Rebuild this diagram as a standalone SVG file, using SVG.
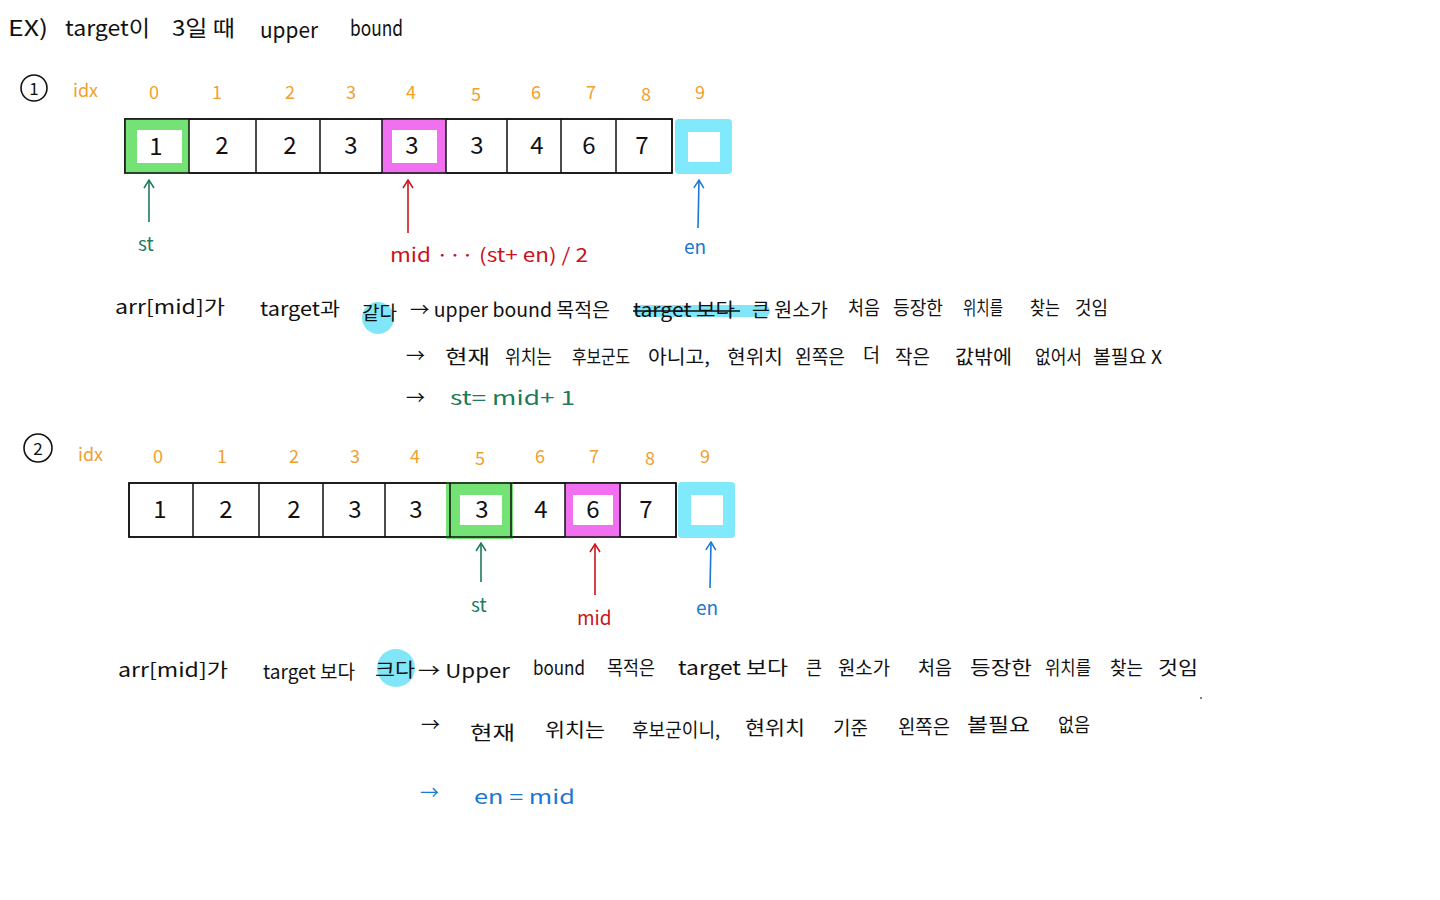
<svg xmlns="http://www.w3.org/2000/svg" width="1440" height="900" viewBox="0 0 1440 900">
<style>
text{font-family:"Noto Sans CJK KR","Noto Sans",sans-serif;fill:#111}
.t{font-size:19px}
.ttl{font-size:22px}
.idx{font-size:18px;fill:#f0a030}
.num{font-size:24px;text-anchor:middle}
.cell{fill:#fff;stroke:#111;stroke-width:1.5}
.g{fill:#74e274}
.m{fill:#f070f0}
.c{fill:#80e9fb}
.hl{fill:#80e6f8}
.gt{fill:#1d7a5c}
.rt{fill:#c8141c}
.bt{fill:#1a78d4}
.circ{fill:none;stroke:#111;stroke-width:1.6}
</style>
<defs>
<marker id="ah" viewBox="0 0 12 12" refX="11" refY="6" markerWidth="12" markerHeight="12" markerUnits="userSpaceOnUse" orient="auto">
<path d="M3 1 L11 6 L3 11" fill="none" stroke="context-stroke" stroke-width="1.5"/>
</marker>
</defs>
<rect width="1440" height="900" fill="#fff"/>

<g id="title">
<text class="ttl" x="8" y="36" textLength="40" lengthAdjust="spacingAndGlyphs">EX)</text>
<text class="ttl" x="65" y="36" textLength="85" lengthAdjust="spacingAndGlyphs">target이</text>
<text class="ttl" x="172" y="36" textLength="63" lengthAdjust="spacingAndGlyphs">3일 때</text>
<text class="ttl" x="260" y="38" textLength="58" lengthAdjust="spacingAndGlyphs">upper</text>
<text class="ttl" x="350" y="36" textLength="53" lengthAdjust="spacingAndGlyphs">bound</text>
</g>

<!-- Section 1 -->
<g id="step1-label">
<circle class="circ" cx="34" cy="88" r="13"/>
<text x="34" y="95" font-size="17" text-anchor="middle">1</text>
<text class="idx" x="73" y="97">idx</text>
</g>
<g id="idx1">
<text class="idx" text-anchor="middle" x="154" y="99">0</text>
<text class="idx" text-anchor="middle" x="217" y="99">1</text>
<text class="idx" text-anchor="middle" x="290" y="99">2</text>
<text class="idx" text-anchor="middle" x="351" y="99">3</text>
<text class="idx" text-anchor="middle" x="411" y="99">4</text>
<text class="idx" text-anchor="middle" x="476" y="101">5</text>
<text class="idx" text-anchor="middle" x="536" y="99">6</text>
<text class="idx" text-anchor="middle" x="591" y="99">7</text>
<text class="idx" text-anchor="middle" x="646" y="101">8</text>
<text class="idx" text-anchor="middle" x="700" y="99">9</text>
</g>
<g id="arr1">
<rect class="cell" x="125" y="119" width="547" height="54"/>
<rect class="g" x="125" y="119" width="64" height="55"/>
<rect fill="#fff" x="137" y="130" width="45" height="33"/>
<rect class="m" x="382" y="119" width="64" height="55"/>
<rect fill="#fff" x="392" y="130" width="45" height="33"/>
<rect fill="none" stroke="#111" stroke-width="1.5" x="125" y="119" width="547" height="54"/>
<path d="M189 119V173M256 119V173M320 119V173M382 119V173M446 119V173M507 119V173M561 119V173M616 119V173" stroke="#111" stroke-width="1.5"/>
<rect class="c" x="675" y="119" width="57" height="55" rx="4"/>
<rect fill="#fff" x="688" y="132" width="32" height="30"/>
<text class="num" x="156" y="155">1</text>
<text class="num" x="222" y="154">2</text>
<text class="num" x="290" y="154">2</text>
<text class="num" x="351" y="154">3</text>
<text class="num" x="412" y="154">3</text>
<text class="num" x="477" y="154">3</text>
<text class="num" x="537" y="154">4</text>
<text class="num" x="589" y="154">6</text>
<text class="num" x="642" y="154">7</text>
</g>
<g id="ptr1">
<text class="t gt" x="138" y="251" font-size="21">st</text>
<text class="t rt" x="390" y="262" textLength="198" lengthAdjust="spacingAndGlyphs">mid ··· (st+ en) / 2</text>
<text class="t bt" x="684" y="254" font-size="21">en</text>
</g>

<g id="conn1">
<line x1="149" y1="222" x2="149" y2="180" stroke="#1d7a5c" stroke-width="1.6" marker-end="url(#ah)"/>
<line x1="408" y1="233" x2="408" y2="180" stroke="#c8141c" stroke-width="1.6" marker-end="url(#ah)"/>
<line x1="698" y1="228" x2="699" y2="180" stroke="#1a78d4" stroke-width="1.6" marker-end="url(#ah)"/>
</g>

<g id="text1">
<text class="t" x="115" y="314" textLength="110" lengthAdjust="spacingAndGlyphs">arr[mid]가</text>
<text class="t" x="260" y="316" textLength="80" lengthAdjust="spacingAndGlyphs">target과</text>
<circle class="hl" cx="378" cy="318" r="16"/>
<text class="t" x="362" y="320" textLength="35" lengthAdjust="spacingAndGlyphs">같다</text>
<text class="t" x="410" y="317" textLength="200" lengthAdjust="spacingAndGlyphs">→ upper bound 목적은</text>
<rect class="hl" x="634" y="305" width="136" height="12" rx="6"/>
<text class="t" x="633" y="317" textLength="102" lengthAdjust="spacingAndGlyphs">target 보다</text>
<line x1="633" y1="311" x2="740" y2="311" stroke="#111" stroke-width="1.5"/>
<text class="t" x="752" y="317" textLength="76" lengthAdjust="spacingAndGlyphs">큰 원소가</text>
<text class="t" x="848" y="315" textLength="32" lengthAdjust="spacingAndGlyphs">처음</text>
<text class="t" x="893" y="315" textLength="50" lengthAdjust="spacingAndGlyphs">등장한</text>
<text class="t" x="963" y="315" textLength="40" lengthAdjust="spacingAndGlyphs">위치를</text>
<text class="t" x="1030" y="315" textLength="30" lengthAdjust="spacingAndGlyphs">찾는</text>
<text class="t" x="1075" y="315" textLength="33" lengthAdjust="spacingAndGlyphs">것임</text>

<text class="t" x="406" y="363">→</text>
<text class="t" x="445" y="364" textLength="45" lengthAdjust="spacingAndGlyphs">현재</text>
<text class="t" x="505" y="364" textLength="47" lengthAdjust="spacingAndGlyphs">위치는</text>
<text class="t" x="572" y="364" textLength="58" lengthAdjust="spacingAndGlyphs">후보군도</text>
<text class="t" x="648" y="364" textLength="62" lengthAdjust="spacingAndGlyphs">아니고,</text>
<text class="t" x="727" y="364" textLength="56" lengthAdjust="spacingAndGlyphs">현위치</text>
<text class="t" x="795" y="364" textLength="50" lengthAdjust="spacingAndGlyphs">왼쪽은</text>
<text class="t" x="863" y="362" textLength="17" lengthAdjust="spacingAndGlyphs">더</text>
<text class="t" x="895" y="364" textLength="35" lengthAdjust="spacingAndGlyphs">작은</text>
<text class="t" x="955" y="364" textLength="57" lengthAdjust="spacingAndGlyphs">값밖에</text>
<text class="t" x="1035" y="364" textLength="47" lengthAdjust="spacingAndGlyphs">없어서</text>
<text class="t" x="1093" y="364" textLength="69" lengthAdjust="spacingAndGlyphs">볼필요 X</text>

<text class="t" x="406" y="405">→</text>
<text class="t gt" x="450" y="405" textLength="125" lengthAdjust="spacingAndGlyphs">st= mid+ 1</text>
</g>

<!-- Section 2 -->
<g id="step2-label">
<circle class="circ" cx="38" cy="448" r="14"/>
<text x="38" y="455" font-size="17" text-anchor="middle">2</text>
<text class="idx" x="78" y="461">idx</text>
</g>
<g id="idx2">
<text class="idx" text-anchor="middle" x="158" y="463">0</text>
<text class="idx" text-anchor="middle" x="222" y="463">1</text>
<text class="idx" text-anchor="middle" x="294" y="463">2</text>
<text class="idx" text-anchor="middle" x="355" y="463">3</text>
<text class="idx" text-anchor="middle" x="415" y="463">4</text>
<text class="idx" text-anchor="middle" x="480" y="465">5</text>
<text class="idx" text-anchor="middle" x="540" y="463">6</text>
<text class="idx" text-anchor="middle" x="594" y="463">7</text>
<text class="idx" text-anchor="middle" x="650" y="465">8</text>
<text class="idx" text-anchor="middle" x="705" y="463">9</text>
</g>
<g id="arr2">
<rect class="cell" x="129" y="483" width="547" height="54"/>
<rect class="g" x="446" y="482" width="67" height="57"/>
<rect fill="#fff" x="460" y="495" width="42" height="30"/>
<rect class="m" x="565" y="483" width="56" height="55"/>
<rect fill="#fff" x="573" y="495" width="40" height="30"/>
<rect fill="none" stroke="#111" stroke-width="1.5" x="129" y="483" width="547" height="54"/>
<path d="M193 483V537M259 483V537M323 483V537M385 483V537M450 483V537M511 483V537M565 483V537M620 483V537" stroke="#111" stroke-width="1.5"/>
<rect class="c" x="678" y="482" width="57" height="56" rx="4"/>
<rect fill="#fff" x="691" y="495" width="32" height="30"/>
<text class="num" x="160" y="518">1</text>
<text class="num" x="226" y="518">2</text>
<text class="num" x="294" y="518">2</text>
<text class="num" x="355" y="518">3</text>
<text class="num" x="416" y="518">3</text>
<text class="num" x="482" y="518">3</text>
<text class="num" x="541" y="518">4</text>
<text class="num" x="593" y="518">6</text>
<text class="num" x="646" y="518">7</text>
</g>
<g id="ptr2">
<text class="t gt" x="471" y="612" font-size="21">st</text>
<text class="t rt" x="577" y="625" font-size="21">mid</text>
<text class="t bt" x="696" y="615" font-size="21">en</text>
</g>

<g id="conn2">
<line x1="481" y1="582" x2="481" y2="543" stroke="#1d7a5c" stroke-width="1.6" marker-end="url(#ah)"/>
<line x1="595" y1="595" x2="595" y2="544" stroke="#c8141c" stroke-width="1.6" marker-end="url(#ah)"/>
<line x1="710" y1="588" x2="711" y2="542" stroke="#1a78d4" stroke-width="1.6" marker-end="url(#ah)"/>
</g>

<g id="text2">
<text class="t" x="118" y="677" textLength="110" lengthAdjust="spacingAndGlyphs">arr[mid]가</text>
<text class="t" x="263" y="679" textLength="92" lengthAdjust="spacingAndGlyphs">target 보다</text>
<circle class="hl" cx="396" cy="668" r="19"/>
<text class="t" x="375" y="677" textLength="40" lengthAdjust="spacingAndGlyphs">크다</text>
<text class="t" x="418" y="678" textLength="92" lengthAdjust="spacingAndGlyphs">→ Upper</text>
<text class="t" x="533" y="675" textLength="52" lengthAdjust="spacingAndGlyphs">bound</text>
<text class="t" x="607" y="675" textLength="48" lengthAdjust="spacingAndGlyphs">목적은</text>
<text class="t" x="678" y="675" textLength="110" lengthAdjust="spacingAndGlyphs">target 보다</text>
<text class="t" x="806" y="675" textLength="16" lengthAdjust="spacingAndGlyphs">큰</text>
<text class="t" x="838" y="675" textLength="52" lengthAdjust="spacingAndGlyphs">원소가</text>
<text class="t" x="918" y="675" textLength="34" lengthAdjust="spacingAndGlyphs">처음</text>
<text class="t" x="970" y="675" textLength="62" lengthAdjust="spacingAndGlyphs">등장한</text>
<text class="t" x="1045" y="675" textLength="46" lengthAdjust="spacingAndGlyphs">위치를</text>
<text class="t" x="1110" y="675" textLength="33" lengthAdjust="spacingAndGlyphs">찾는</text>
<text class="t" x="1158" y="675" textLength="40" lengthAdjust="spacingAndGlyphs">것임</text>
<circle cx="1201" cy="698" r="1" fill="#555"/>

<text class="t" x="421" y="732">→</text>
<text class="t" x="470" y="740" textLength="45" lengthAdjust="spacingAndGlyphs">현재</text>
<text class="t" x="545" y="737" textLength="60" lengthAdjust="spacingAndGlyphs">위치는</text>
<text class="t" x="632" y="737" textLength="88" lengthAdjust="spacingAndGlyphs">후보군이니,</text>
<text class="t" x="745" y="735" textLength="60" lengthAdjust="spacingAndGlyphs">현위치</text>
<text class="t" x="833" y="735" textLength="35" lengthAdjust="spacingAndGlyphs">기준</text>
<text class="t" x="898" y="734" textLength="52" lengthAdjust="spacingAndGlyphs">왼쪽은</text>
<text class="t" x="967" y="732" textLength="63" lengthAdjust="spacingAndGlyphs">볼필요</text>
<text class="t" x="1058" y="732" textLength="32" lengthAdjust="spacingAndGlyphs">없음</text>

<text class="t bt" x="420" y="800">→</text>
<text class="t bt" x="474" y="804" font-size="22" textLength="101" lengthAdjust="spacingAndGlyphs">en = mid</text>
</g>
</svg>
